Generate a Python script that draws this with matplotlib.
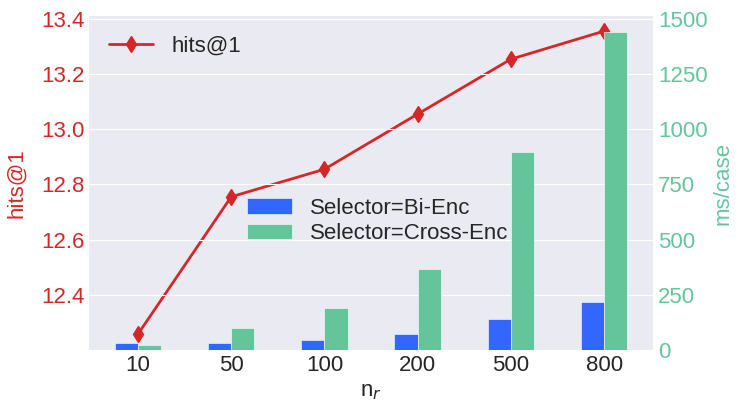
import numpy as np
import matplotlib
matplotlib.use('Agg')
import matplotlib.pyplot as plt

# values
n_r = ['10', '50', '100', '200', '500', '800']
hits1 = [12.257, 12.755, 12.855, 13.055, 13.254, 13.356]
ms_bi = [30, 30, 45, 71, 142, 216]
ms_cross = [23, 98, 189, 366, 895, 1441]

plt.style.use('seaborn-v0_8-darkgrid')
plt.rcParams['font.family'] = ['Liberation Sans', 'DejaVu Sans']
plt.rcParams['font.size'] = 16

red = '#d62728'
blue = '#3366ff'
green = '#64c59b'

fig = plt.figure(figsize=(7.48, 4.15), dpi=100)
ax1 = fig.add_axes([0.119, 0.157, 0.754, 0.804])
ax2 = ax1.twinx()

x = np.arange(len(n_r))
w = 0.25

# hits@1 line on the left axis
ax1.plot(x, hits1, color=red, marker='d', markersize=8, linewidth=2, label='hits@1')
ax1.set_ylim(12.2, 13.41)
ax1.set_yticks(np.arange(12.4, 13.41, 0.2))
ax1.set_ylabel('hits@1', color=red, fontsize=16, labelpad=10)
ax1.tick_params(axis='y', colors=red, labelsize=16)
ax1.tick_params(axis='x', labelsize=16)
ax1.set_xticks(x)
ax1.set_xticklabels(n_r)
ax1.set_xlim(-0.525, len(n_r) - 0.475)
ax1.set_xlabel('n$_r$', fontsize=16)
ax1.grid(False)
ax1.legend(loc='upper left', fontsize=16, frameon=False)

# latency bars on the right axis
ax2.bar(x - w / 2, ms_bi, w, color=blue, edgecolor='white', linewidth=0.4, label='Selector=Bi-Enc')
ax2.bar(x + w / 2, ms_cross, w, color=green, edgecolor='white', linewidth=0.4, label='Selector=Cross-Enc')
ax2.set_ylim(0, 1512.5)
ax2.set_yticks(np.arange(0, 1501, 250))
ax2.set_ylabel('ms/case', color=green, fontsize=16)
ax2.tick_params(axis='y', colors=green, labelsize=16)
ax2.xaxis.grid(False)
ax2.legend(loc='center', bbox_to_anchor=(0.512, 0.386), fontsize=16, frameon=False,
           labelspacing=0.2)

plt.savefig('out.png', dpi=100)
